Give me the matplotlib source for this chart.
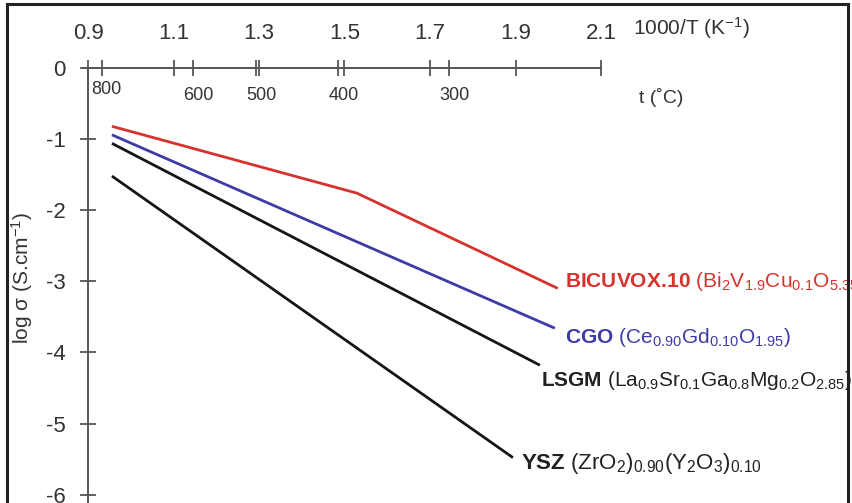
import numpy as np
import matplotlib
matplotlib.use("Agg")
import matplotlib.pyplot as plt
from matplotlib.patches import Rectangle

plt.rcParams['font.family'] = ['Liberation Sans', 'DejaVu Sans']
plt.rcParams['mathtext.fontset'] = 'custom'
plt.rcParams['mathtext.rm'] = 'Liberation Sans'
plt.rcParams['mathtext.bf'] = 'Liberation Sans:bold'
plt.rcParams['mathtext.default'] = 'regular'

# data
inv_T_ticks = [0.9, 1.1, 1.3, 1.5, 1.7, 1.9, 2.1]
t_celsius = [800, 600, 500, 400, 300]
log_sigma_ticks = [0, -1, -2, -3, -4, -5, -6]

bicuvox_x = [0.956, 1.529, 1.999]
bicuvox_y = [-0.82, -1.76, -3.10]
cgo_x = [0.956, 1.992]
cgo_y = [-0.94, -3.66]
lsgm_x = [0.956, 1.957]
lsgm_y = [-1.06, -4.18]
ysz_x = [0.956, 1.894]
ysz_y = [-1.52, -5.48]

labels = [
    r'$\mathbf{BICUVOX.\!10}$ (Bi$_2$V$_{1.9}$Cu$_{0.1}$O$_{5.35}$)',
    r'$\mathbf{CGO}$ (Ce$_{0.90}$Gd$_{0.10}$O$_{1.95}$)',
    r'$\mathbf{LSGM}$ (La$_{0.9}$Sr$_{0.1}$Ga$_{0.8}$Mg$_{0.2}$O$_{2.85}$)',
    r'$\mathbf{YSZ}$ (ZrO$_2$)$_{0.90}$(Y$_2$O$_3$)$_{0.10}$',
]

RED = '#d8322e'
BLUE = '#3c3ca6'
BLACK = '#151515'
AXC = '#555555'
TXT = '#333333'

t_pos = [1000.0 / (t + 273.15) for t in t_celsius]

fig = plt.figure(figsize=(8.53, 5.03), dpi=100)
ax = fig.add_axes([0, 0, 1, 1])
# map pixels: 0.9 -> 88px, 427.5 px per unit; y=0 -> 68px, 71.1 px per unit
ax.set_xlim(0.9 - 88 / 427.5, 0.9 + (853 - 88) / 427.5)
ax.set_ylim((68 - 503) / 71.1, 68 / 71.1)
ax.patch.set_alpha(0)

ax.spines['top'].set_visible(False)
ax.spines['right'].set_visible(False)
ax.spines['left'].set_position(('data', 0.9))
ax.spines['left'].set_bounds(-6.1, 0)
ax.spines['bottom'].set_position(('data', 0))
ax.spines['bottom'].set_bounds(0.888, 2.1)
for s in ('left', 'bottom'):
    ax.spines[s].set_color(AXC)
    ax.spines[s].set_linewidth(1.4)

ax.set_xticks(inv_T_ticks)
ax.set_xticks(t_pos, minor=True)
ax.tick_params(axis='x', which='both', direction='inout', length=12, width=1.3,
               color=AXC, labelbottom=False)
ax.set_yticks(log_sigma_ticks)
ax.set_yticklabels([str(v) for v in log_sigma_ticks])
ax.tick_params(axis='y', direction='inout', length=12, width=1.3, color=AXC,
               pad=10, labelsize=16, labelcolor=TXT)

for v in inv_T_ticks:
    ax.text(v, 0.49, f'{v:.1f}', ha='center', va='center', fontsize=16, color=TXT)
for v, t in zip(t_pos, t_celsius):
    ax.text(v + 0.012, -0.3 if t == 800 else -0.39, str(t), ha='center', va='center',
            fontsize=13, color=TXT)
ax.text(2.175, 0.56, r'1000/T (K$^{-1}$)', ha='left', va='center', fontsize=15, color=TXT)
ax.text(2.19, -0.41, 't (˚C)', ha='left', va='center', fontsize=14, color=TXT)
fig.text(22 / 853, 1 - 278 / 503, r'log σ (S.cm$^{-1}$)', rotation=90,
         ha='center', va='center', fontsize=15, color=TXT)

series = [
    (bicuvox_x, bicuvox_y, RED, (5, 5), 15),
    (cgo_x, cgo_y, BLUE, (7, -7), 15),
    (lsgm_x, lsgm_y, BLACK, (1, -11), 15),
    (ysz_x, ysz_y, BLACK, (6, -4), 16),
]
for (xs, ys, c, off, fs), lab in zip(series, labels):
    ax.plot(xs, ys, color=c, lw=2.0, solid_capstyle='butt')
    tc = c if c != BLACK else '#222222'
    ax.annotate(lab, xy=(xs[-1], ys[-1]), xytext=off, textcoords='offset points',
                ha='left', va='center', fontsize=fs, color=tc)

fig.patches.append(Rectangle((7 / 853, -0.01), (848 - 7) / 853, 1 - 4 / 503 + 0.01,
                             transform=fig.transFigure, fill=False,
                             edgecolor='#222222', lw=2.2))

fig.savefig('out.png', dpi=100)
